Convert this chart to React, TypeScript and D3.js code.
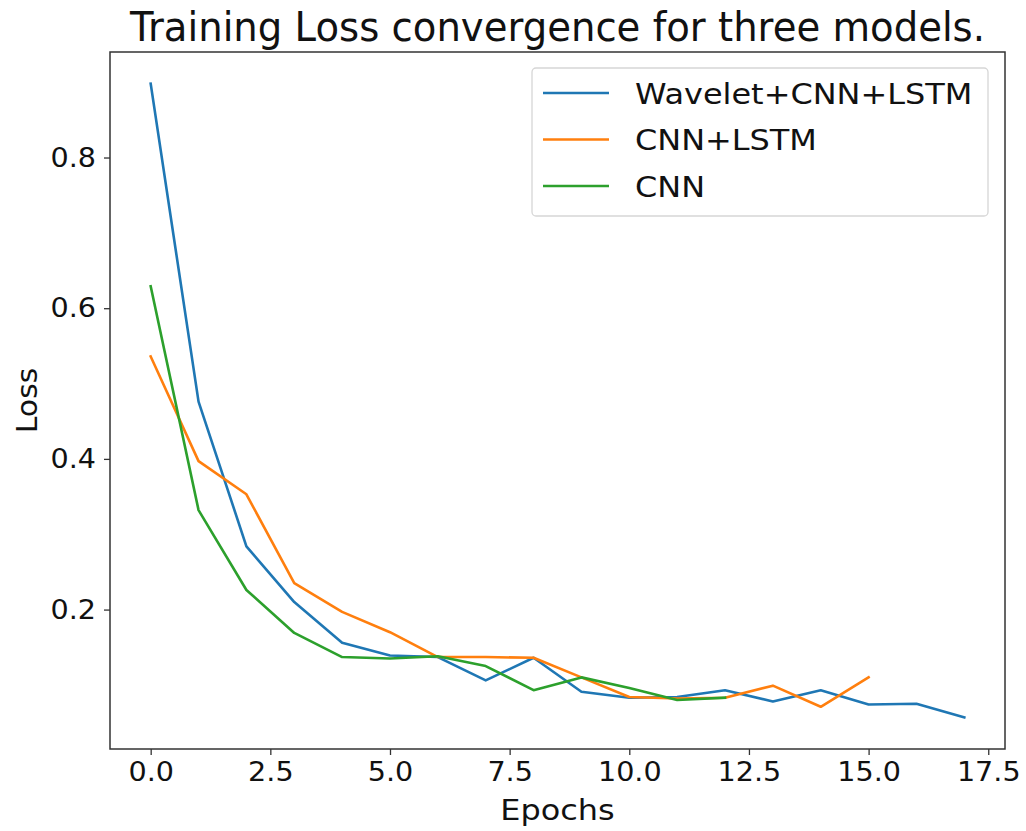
import React, { useEffect, useRef } from "react";
import * as d3 from "d3";

// Loss values, one per epoch
const waveletCnnLstm = [
  0.898, 0.476, 0.284, 0.21, 0.156, 0.139, 0.137, 0.106, 0.136, 0.091, 0.083,
  0.084, 0.093, 0.078, 0.093, 0.074, 0.075, 0.057,
];
const cnnLstm = [
  0.536, 0.397, 0.353, 0.235, 0.197, 0.17, 0.137, 0.137, 0.136, 0.11, 0.084,
  0.082, 0.083, 0.099, 0.071, 0.11,
];
const cnn = [
  0.629, 0.332, 0.226, 0.169, 0.137, 0.135, 0.138, 0.125, 0.093, 0.11, 0.096,
  0.08, 0.083,
];

const seriesNames = ["Wavelet+CNN+LSTM", "CNN+LSTM", "CNN"];
const seriesColors = ["#1f77b4", "#ff7f0e", "#2ca02c"];
const xTicks = [0, 2.5, 5, 7.5, 10, 12.5, 15, 17.5];
const yTicks = [0.2, 0.4, 0.6, 0.8];

// the reference text is a bit wider than plain DejaVu, so stretch it
const stretch = (sel: any, factor: number) => {
  sel.each(function (this: SVGTextElement) {
    const len = this.getComputedTextLength();
    this.setAttribute("textLength", String(len * factor));
    this.setAttribute("lengthAdjust", "spacingAndGlyphs");
  });
};

const App = () => {
  const svgRef = useRef<SVGSVGElement>(null);

  useEffect(() => {
    const W = 1026;
    const H = 831;
    const margin = { top: 52, right: 21, bottom: 82, left: 110 };
    const width = W - margin.left - margin.right;
    const height = H - margin.top - margin.bottom;
    const font = "DejaVu Sans";

    const svg = d3.select(svgRef.current);
    svg.selectAll("*").remove();
    svg.attr("width", W).attr("height", H);

    svg.append("rect").attr("width", W).attr("height", H).attr("fill", "#fff");

    const g = svg
      .append("g")
      .attr("transform", `translate(${margin.left},${margin.top})`);

    const series = [waveletCnnLstm, cnnLstm, cnn];
    const maxLen = d3.max(series, (s) => s.length)! - 1;
    const allVals = series.flat();
    const yMin = d3.min(allVals)!;
    const yMax = d3.max(allVals)!;
    const xPad = maxLen * 0.05;
    const yPad = (yMax - yMin) * 0.05;

    const x = d3.scaleLinear().domain([-xPad, maxLen + xPad]).range([0, width]);
    const y = d3
      .scaleLinear()
      .domain([yMin - yPad, yMax + yPad])
      .range([height, 0]);

    // lines
    const line = d3
      .line<number>()
      .x((_, i) => x(i))
      .y((d) => y(d));

    series.forEach((s, i) => {
      g.append("path")
        .datum(s)
        .attr("fill", "none")
        .attr("stroke", seriesColors[i])
        .attr("stroke-width", 2.6)
        .attr("stroke-linejoin", "round")
        .attr("stroke-linecap", "square")
        .attr("d", line);
    });

    // x axis
    const xAxis = g
      .append("g")
      .attr("transform", `translate(0,${height})`)
      .call(
        d3
          .axisBottom(x)
          .tickValues(xTicks)
          .tickFormat(d3.format(".1f"))
          .tickSize(6)
          .tickPadding(7)
      );
    xAxis.select(".domain").remove();
    xAxis.selectAll("line").attr("stroke", "#333").attr("stroke-width", 1.3);
    const xLabels = xAxis
      .selectAll("text")
      .attr("font-family", font)
      .attr("font-size", 27)
      .attr("fill", "#111");
    stretch(xLabels, 1.06);

    // y axis
    const yAxis = g
      .append("g")
      .call(
        d3
          .axisLeft(y)
          .tickValues(yTicks)
          .tickFormat(d3.format(".1f"))
          .tickSize(6)
          .tickPadding(8)
      );
    yAxis.select(".domain").remove();
    yAxis.selectAll("line").attr("stroke", "#333").attr("stroke-width", 1.3);
    const yLabels = yAxis
      .selectAll("text")
      .attr("font-family", font)
      .attr("font-size", 27)
      .attr("fill", "#111");
    stretch(yLabels, 1.06);

    // frame
    g.append("rect")
      .attr("width", width)
      .attr("height", height)
      .attr("fill", "none")
      .attr("stroke", "#333")
      .attr("stroke-width", 1.5);

    // title
    svg
      .append("text")
      .attr("x", margin.left + width / 2)
      .attr("y", 41)
      .attr("text-anchor", "middle")
      .attr("font-family", font)
      .attr("font-size", 40)
      .attr("fill", "#111")
      .attr("textLength", 855)
      .attr("lengthAdjust", "spacingAndGlyphs")
      .text("Training Loss convergence for three models.");

    // axis labels
    const xTitle = svg
      .append("text")
      .attr("x", margin.left + width / 2)
      .attr("y", 820)
      .attr("text-anchor", "middle")
      .attr("font-family", font)
      .attr("font-size", 28.5)
      .attr("fill", "#111")
      .text("Epochs");
    stretch(xTitle, 1.12);

    const yTitle = svg
      .append("text")
      .attr("transform", `translate(37,${margin.top + height / 2}) rotate(-90)`)
      .attr("text-anchor", "middle")
      .attr("font-family", font)
      .attr("font-size", 28.5)
      .attr("fill", "#111")
      .text("Loss");
    stretch(yTitle, 1.05);

    // legend
    const legend = svg.append("g").attr("transform", "translate(532,68)");
    legend
      .append("rect")
      .attr("width", 456)
      .attr("height", 148)
      .attr("rx", 4)
      .attr("fill", "#fff")
      .attr("fill-opacity", 0.8)
      .attr("stroke", "#d6d6d6")
      .attr("stroke-width", 1.3);

    seriesNames.forEach((name, i) => {
      const cy = 25 + i * 46.5;
      legend
        .append("line")
        .attr("x1", 11)
        .attr("x2", 77)
        .attr("y1", cy)
        .attr("y2", cy)
        .attr("stroke", seriesColors[i])
        .attr("stroke-width", 2.6);
      const label = legend
        .append("text")
        .attr("x", 103)
        .attr("y", cy + 10.5)
        .attr("font-family", font)
        .attr("font-size", 28.5)
        .attr("fill", "#111")
        .text(name);
      stretch(label, 1.12);
    });
  }, []);

  return (
    <div>
      <svg
        ref={svgRef}
        style={{ position: "absolute", left: 0, top: 0, display: "block" }}
      ></svg>
    </div>
  );
};

export default App;
